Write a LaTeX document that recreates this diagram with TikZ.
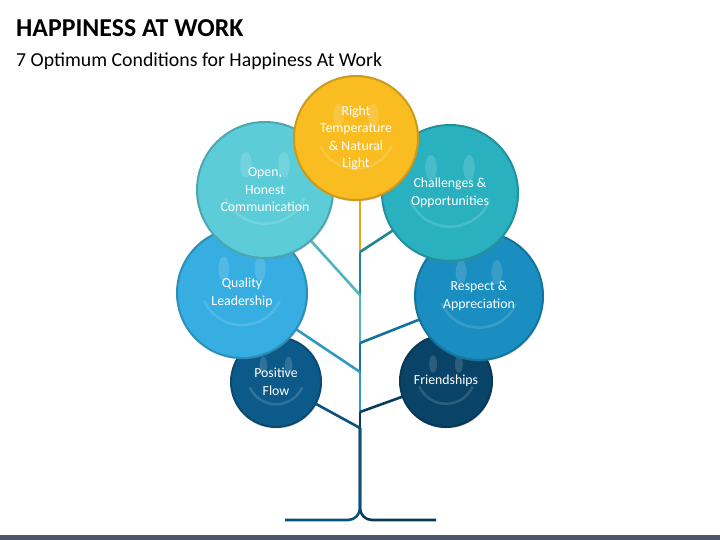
\documentclass[tikz,border=0pt]{standalone}
\usepackage{fontspec}
\setmainfont{Carlito}
\usetikzlibrary{shadows}

\definecolor{tempc}{HTML}{F9BD22}
\definecolor{openc}{HTML}{5CCCD9}
\definecolor{chalc}{HTML}{2AB1BF}
\definecolor{qualc}{HTML}{36AEE2}
\definecolor{respc}{HTML}{1A8EC0}
\definecolor{posc}{HTML}{0C5A89}
\definecolor{fric}{HTML}{094468}
\definecolor{barc}{HTML}{4A5568}

\tikzset{
  bubble/.style={circle, draw=#1!82!black, fill=#1, line width=2pt,
    inner sep=0pt, text=white, align=center,
    drop shadow={shadow xshift=1pt, shadow yshift=-1.5pt, opacity=0.25},
    font=\fontsize{13.8}{17.5}\selectfont},
  twig/.style={line width=2.6pt, draw=#1},
}

%% faint smiley inside a bubble
\newcommand\smileface[2]{
  \begin{scope}[shift={(#1)}, scale=#2, white, opacity=0.14]
    \fill (-0.28,-0.37) ellipse [x radius=0.085, y radius=0.19];
    \fill (0.28,-0.37) ellipse [x radius=0.085, y radius=0.19];
    \draw[line width=2.5pt] (-0.58,0.12) .. controls (-0.35,0.62) and (0.35,0.62) .. (0.58,0.12);
  \end{scope}
}

\begin{document}
\begin{tikzpicture}[x=1pt, y=-1pt]

\useasboundingbox (0,0) rectangle (720,540);
\fill[barc] (0,535) rectangle (720,540);

\node[anchor=base west, inner sep=0pt, font=\bfseries\fontsize{25.8}{30}\selectfont]
  (title) at (16,36.5) {HAPPINESS AT WORK};
\node[anchor=base west, inner sep=0pt, font=\fontsize{19.8}{23}\selectfont]
  (sub) at (16,66.5) {7 Optimum Conditions for Happiness At Work};

%% trunk junctions
\coordinate (j0) at (360,195);
\coordinate (j1) at (360,252);
\coordinate (j2) at (360,295);
\coordinate (j3) at (360,343);
\coordinate (j4) at (360,372);
\coordinate (j5) at (360,412);
\coordinate (j6) at (360,428);
\coordinate (base) at (360,520);
\coordinate (bl) at (285,520);
\coordinate (br) at (436,520);

%% bubbles (centres)
\coordinate (posp) at (276,382);
\coordinate (frip) at (446,381);
\coordinate (qualp) at (242,293);
\coordinate (respp) at (479,296);
\coordinate (openp) at (265,190);
\coordinate (chalp) at (450,193);
\coordinate (tempp) at (356,138);

%% trunk
\draw[twig=fric!85!black, rounded corners=12pt] (j6) -- (base) -- (br);
\draw[twig=posc!90!black, rounded corners=12pt] (j6) -- (base) -- (bl);
\draw[twig=tempc!90!black] (j0) -- (j1);
\draw[twig=chalc!75!black] (j1) -- (j2);
\draw[twig=openc!88!black] (j2) -- (j3);
\draw[twig=respc!80!black] (j3) -- (j4);
\draw[twig=qualc!88!black] (j4) -- (j5);
\draw[twig=fric!90!black] (j5) -- (j6);

%% branches
\draw[twig=chalc!75!black] (j1) -- (chalp);
\draw[twig=openc!88!black] (j2) -- (openp);
\draw[twig=respc!80!black] (j3) -- (respp);
\draw[twig=qualc!88!black] (j4) -- (qualp);
\draw[twig=fric!90!black] (j5) -- (frip);
\draw[twig=posc!90!black] (j6) -- (posp);

\node[bubble=posc, minimum size=90pt] (pos) at (posp) {Positive\\Flow};
\smileface{posp}{45}
\node[bubble=fric, minimum size=92pt] (fri) at (frip) {Friendships};
\smileface{frip}{46}
\node[bubble=qualc, minimum size=130pt] (qual) at (qualp) {Quality\\Leadership};
\smileface{qualp}{65}
\node[bubble=respc, minimum size=128pt] (resp) at (respp) {Respect \&\\Appreciation};
\smileface{respp}{64}
\node[bubble=openc, minimum size=136pt] (open) at (openp) {Open,\\Honest\\Communication};
\smileface{openp}{68}
\node[bubble=chalc, minimum size=136pt] (chal) at (chalp) {Challenges \&\\Opportunities};
\smileface{chalp}{68}
\node[bubble=tempc, minimum size=124pt] (temp) at (tempp) {Right\\Temperature\\\& Natural\\Light};
\smileface{tempp}{62}

\end{tikzpicture}
\end{document}
